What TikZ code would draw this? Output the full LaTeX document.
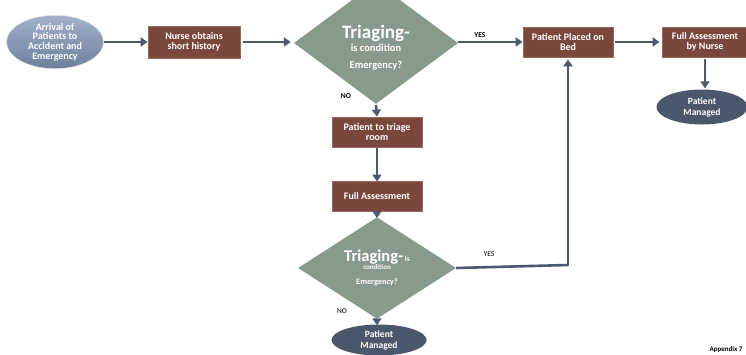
\documentclass[tikz,border=0pt]{standalone}
\usepackage{fontspec}
\setmainfont{Carlito}
\usetikzlibrary{shapes.geometric,arrows.meta}
\definecolor{boxbrown}{HTML}{7A473C}
\definecolor{boxedge}{HTML}{9A6A5C}
\definecolor{dgreen}{HTML}{879A8C}
\definecolor{arrowc}{HTML}{4B5A6E}
\definecolor{darkell}{HTML}{4B586B}
\definecolor{elltop}{HTML}{A4B3CB}
\definecolor{ellbot}{HTML}{6C7E9A}
\tikzset{
  brownbox/.style={draw=boxedge, line width=0.8pt, fill=boxbrown, text=white,
    font=\bfseries\fontsize{10}{10.5}\selectfont, align=center,
    minimum width=90pt, minimum height=30pt, inner sep=1pt},
  decision/.style={shape=diamond, fill=dgreen, draw=none, text=white,
    font=\bfseries\fontsize{10.5}{12}\selectfont, align=center, inner sep=0pt},
  darkoval/.style={shape=ellipse, fill=darkell, text=white,
    font=\bfseries\fontsize{9.5}{11}\selectfont, align=center, inner sep=0pt},
  flow/.style={draw=arrowc, line width=2.6pt, -{Triangle[length=7pt,width=9pt]}},
  flowline/.style={draw=arrowc, line width=2.6pt},
  lbl/.style={font=\bfseries\fontsize{7.5}{9}\selectfont, text=black},
  lblr/.style={font=\fontsize{7.5}{9}\selectfont, text=black}
}
\begin{document}
\begin{tikzpicture}[x=1pt,y=-1pt]
\useasboundingbox (0,0) rectangle (746,354);
% nodes
\node[shape=ellipse, top color=elltop, bottom color=ellbot, draw=white!80!ellbot, line width=0.6pt,
  text=white, font=\bfseries\fontsize{10}{9.7}\selectfont, align=center,
  minimum width=97pt, minimum height=41pt, inner sep=0pt] (arr) at (55,42)
  {Arrival of\\Patients to\\Accident and\\Emergency};
\node[brownbox, minimum width=92pt, minimum height=32pt] (hist) at (194,42) {Nurse obtains\\short history};
\node[decision, minimum width=164pt, minimum height=82pt] (d1) at (376,43)
  {\rule{0pt}{22pt}{\fontsize{19}{20}\selectfont Triaging-}\\[1pt] is condition\\[5pt] Emergency?};
\node[brownbox] (bed) at (568,42) {Patient Placed on\\Bed};
\node[brownbox, minimum width=86pt] (fan) at (705,42) {Full Assessment\\by Nurse};
\node[darkoval, minimum width=91pt, minimum height=35pt] (pm1) at (702,107) {Patient\\Managed};
\node[brownbox] (room) at (377,132) {Patient to triage\\room};
\node[brownbox] (fa) at (377,196) {Full Assessment};
\node[decision, minimum width=158pt, minimum height=52pt] (d2) at (377,268)
  {{\fontsize{16.5}{17}\selectfont Triaging-}\,{\fontsize{7.5}{8}\selectfont is}\\[-4pt]
   {\fontsize{7}{8}\selectfont condition}\\[3pt]{\fontsize{8.3}{9}\selectfont Emergency?}};
\node[darkoval, minimum width=95pt, minimum height=31pt] (pm2) at (379,340) {Patient\\Managed};
\coordinate (turn) at (bed.south |- 0,265);
% labels
\node[lbl] (yes1) at (480,35) {YES};
\node[lbl] (no1) at (346,96) {NO};
\node[lblr] (yes2) at (489,254) {YES};
\node[lblr] (no2) at (342,311) {NO};
\node[font=\bfseries\fontsize{7}{8}\selectfont, anchor=east] (app) at (746,350) {Appendix 7};
% connectors
\draw[flow] (arr.east) -- (hist.west);
\draw[flow] ([xshift=3pt]hist.east) -- ([xshift=-3pt]d1.west |- hist.east);
\draw[flow] (d1.east |- bed.west) -- (bed.west);
\draw[flow] ([xshift=2pt]bed.east) -- ([xshift=-2pt]fan.west);
\draw[flow] ([yshift=-2pt]fan.south) -- ([yshift=1pt]fan.south |- pm1.north);
\draw[flow] ([yshift=-1pt]d1.south) -- (room.north);
\draw[flow] ([yshift=-1pt]room.south) -- ([yshift=-1pt]fa.north);
\draw[flow] ([yshift=-1pt]fa.south) -- ([yshift=-1pt]d2.north);
\draw[flow] ([yshift=-1pt]d2.south) -- ([yshift=-1pt]d2.south |- pm2.north);
\draw[flowline] (d2.east) -- (turn);
\draw[flow] ([yshift=-1.3pt]turn) -- ([yshift=-2pt]bed.south);
\end{tikzpicture}
\end{document}
